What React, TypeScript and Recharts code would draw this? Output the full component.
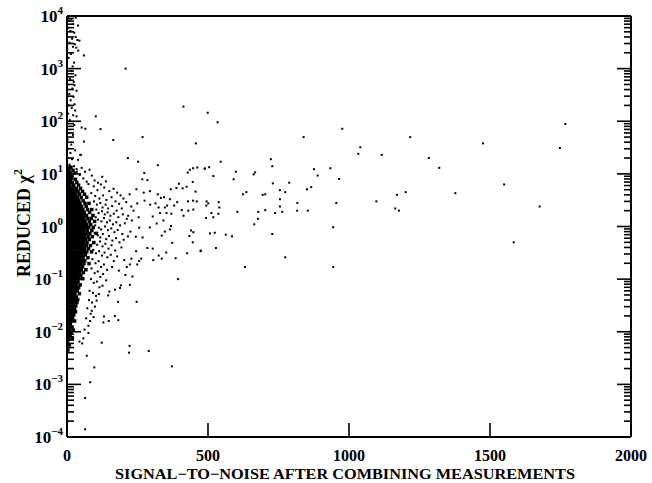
import { ScatterChart, Scatter, XAxis, YAxis } from "recharts";

// x axis: signal-to-noise, y axis: reduced chi^2 (log)
const snTicks = [0, 500, 1000, 1500, 2000];
const chiDecades = [1e-4, 1e-3, 1e-2, 1e-1, 1, 1e1, 1e2, 1e3, 1e4];
const minorSteps = [2, 3, 4, 5, 6, 7, 8, 9];

// dense core near S/N ~ 0: one row per chi^2 level, with the S/N of each dot
const coreRows: [number, number[]][] = [
  [13.4, [3, 14]],
  [11.7, [7, 21]],
  [10.3, [1, 11, 26]],
  [9.0, [5, 17]],
  [7.9, [2, 12, 30]],
  [6.9, [8, 19, 35]],
  [6.1, [0, 10, 24, 41]],
  [5.3, [4, 13, 22, 33, 48]],
  [4.65, [1, 9, 18, 28, 39, 55]],
  [4.1, [5, 14, 23, 31, 44, 62]],
  [3.6, [2, 10, 19, 27, 36, 50, 70]],
  [3.1, [6, 15, 24, 33, 42, 57]],
  [2.75, [0, 9, 18, 27, 37, 46, 64, 78]],
  [2.4, [4, 13, 22, 31, 40, 52, 68]],
  [2.1, [1, 10, 19, 28, 36, 45, 56, 73, 88]],
  [1.85, [5, 14, 23, 32, 41, 50, 61, 80]],
  [1.62, [2, 11, 20, 29, 38, 47, 57, 69, 92]],
  [1.42, [6, 15, 24, 33, 42, 51, 60, 74, 86]],
  [1.25, [0, 9, 18, 27, 36, 45, 54, 64, 79, 98]],
  [1.09, [4, 13, 22, 31, 40, 49, 58, 70, 84]],
  [0.96, [1, 10, 19, 28, 37, 46, 55, 66, 77, 93]],
  [0.84, [5, 14, 23, 32, 41, 50, 60, 72, 88]],
  [0.74, [2, 11, 20, 29, 38, 47, 57, 68, 81, 104]],
  [0.64, [6, 15, 24, 33, 42, 52, 62, 75, 90]],
  [0.565, [0, 9, 18, 27, 36, 45, 55, 66, 79]],
  [0.495, [3, 12, 21, 30, 39, 48, 59, 71, 95]],
  [0.435, [1, 10, 19, 28, 37, 47, 57, 68, 83]],
  [0.38, [5, 14, 23, 32, 41, 51, 62, 76]],
  [0.33, [2, 11, 20, 29, 38, 48, 58, 70, 87]],
  [0.29, [6, 15, 24, 33, 43, 53, 65]],
  [0.256, [0, 9, 18, 27, 36, 46, 57, 74]],
  [0.224, [4, 13, 22, 31, 41, 52, 63]],
  [0.197, [1, 10, 19, 28, 38, 48, 60, 78]],
  [0.172, [5, 14, 23, 33, 43, 55]],
  [0.151, [2, 11, 20, 30, 40, 51, 67]],
  [0.133, [6, 15, 24, 34, 45, 58]],
  [0.116, [0, 9, 18, 27, 37, 49]],
  [0.102, [3, 12, 21, 31, 42, 56]],
  [0.089, [1, 10, 19, 29, 39]],
  [0.078, [5, 14, 24, 34, 47]],
  [0.069, [2, 11, 20, 30, 41]],
  [0.06, [6, 15, 25, 36]],
  [0.053, [0, 9, 18, 28, 44]],
  [0.046, [4, 13, 22, 33]],
  [0.041, [1, 10, 19, 29, 38]],
  [0.036, [5, 14, 24, 35]],
  [0.031, [2, 11, 21, 31]],
  [0.027, [6, 16, 27]],
  [0.024, [0, 9, 19, 30]],
  [0.021, [4, 13, 24]],
  [0.018, [1, 10, 20]],
  [0.016, [5, 15, 27]],
  [0.014, [2, 12]],
  [0.0123, [7, 18]],
  [0.0108, [0, 10, 22]],
  [0.0095, [4, 14]],
  [0.0084, [1, 11]],
  [0.0073, [6, 19]],
  [0.0064, [2]],
  [0.0056, [8]],
  [0.0045, [3]],
];

// the spike of large chi^2 at low S/N
const spike: [number, number][] = [
  [3, 9500], [8, 8200], [15, 8800], [31, 9300], [22, 7000], [39, 6600], [5, 6000],
  [12, 5200], [26, 4800], [31, 4000], [18, 3700], [37, 3500], [44, 3400], [9, 3100],
  [28, 2900], [21, 2600], [33, 2500], [40, 2200], [60, 1780], [14, 1900], [6, 1600],
  [25, 1300], [20, 1100], [16, 900], [30, 750], [11, 640], [24, 560], [27, 480],
  [19, 420], [34, 380], [8, 330], [23, 290], [13, 250], [27, 210], [17, 180],
  [29, 160], [4, 140], [22, 130], [34, 124], [10, 105], [52, 76], [65, 72], [26, 85],
  [7, 60], [21, 55], [60, 41], [15, 36], [47, 23], [29, 28], [3, 30], [18, 19],
  [39, 18.5], [49, 23], [9, 15], [25, 14], [35, 11], [12, 25], [2, 45], [6, 200],
  [1, 2300], [2, 700], [34, 12.3],
];

// fan of points spreading out from the core
const fan: [number, number][] = [
  [252, 17], [322, 14.6], [274, 10.4], [267, 7.9], [285, 7.6], [428, 10.6], [436, 12],
  [447, 12.8], [462, 13.2], [488, 12.6], [397, 6.5], [424, 5.7], [446, 7.0], [368, 5.1],
  [388, 5.4], [410, 5.3], [456, 4.6], [246, 5.1], [272, 4.4], [294, 4.7], [322, 4.1],
  [222, 4.1], [333, 3.5], [344, 3.6], [365, 3.3], [391, 2.9], [429, 3.0], [447, 3.1],
  [460, 3.0], [275, 3.1], [249, 2.75], [314, 2.75], [295, 2.6], [325, 2.3], [347, 2.3],
  [355, 2.5], [380, 2.5], [407, 2.05], [430, 2.0], [448, 2.1], [330, 1.8], [353, 1.8],
  [370, 1.75], [413, 1.6], [254, 1.5], [304, 1.55], [217, 1.6], [342, 1.3], [318, 1.14],
  [256, 0.95], [294, 0.96], [369, 1.02], [365, 0.88], [347, 0.8], [440, 0.84], [448, 0.78],
  [244, 0.64], [268, 0.62], [216, 0.65], [336, 0.67], [434, 0.66], [373, 0.49],
  [446, 0.5], [474, 0.35], [426, 0.31], [385, 0.25], [352, 0.32], [336, 0.245],
  [325, 0.28], [306, 0.23], [285, 0.39], [304, 0.38], [256, 0.22], [249, 0.19],
  [263, 0.245], [228, 0.245], [223, 0.19], [245, 0.34], [394, 0.1], [212, 0.17],
  [203, 0.23], [184, 0.145], [232, 0.112], [207, 0.12], [223, 0.078], [247, 0.037],
  [191, 0.076], [188, 0.068], [170, 0.063], [150, 0.058], [146, 0.049], [181, 0.037],
  [105, 0.039], [170, 0.02], [131, 0.0195], [129, 0.015], [148, 0.016], [182, 0.0166],
  [88, 0.025], [82, 0.016], [76, 0.013],
  [95, 5.8], [108, 4.9], [120, 6.3], [132, 5.5], [150, 4.7], [165, 5.2], [178, 4.4],
  [190, 3.9], [86, 4.3], [100, 3.8], [115, 3.4], [128, 3.9], [140, 3.2], [158, 3.6],
  [172, 3.0], [185, 2.7], [200, 3.4], [210, 2.9], [96, 3.0], [106, 2.6], [118, 2.8],
  [126, 2.3], [137, 2.6], [146, 2.2], [160, 2.45], [176, 2.0], [194, 2.2], [228, 2.4],
  [236, 2.0], [104, 2.1], [112, 1.8], [124, 1.95], [134, 1.7], [144, 1.85], [154, 1.6],
  [166, 1.75], [182, 1.5], [198, 1.7], [212, 1.4], [230, 1.3], [102, 1.5], [110, 1.35],
  [122, 1.25], [131, 1.45], [142, 1.2], [152, 1.3], [163, 1.1], [175, 1.2], [188, 1.05],
  [205, 1.15], [100, 1.05], [113, 0.95], [121, 0.88], [135, 1.0], [145, 0.85],
  [157, 0.92], [168, 0.78], [180, 0.86], [196, 0.72], [225, 0.8], [98, 0.75], [109, 0.68],
  [118, 0.62], [127, 0.72], [139, 0.58], [149, 0.66], [161, 0.54], [174, 0.6], [186, 0.5],
  [201, 0.56], [97, 0.5], [107, 0.45], [117, 0.52], [126, 0.42], [136, 0.47], [147, 0.38],
  [158, 0.44], [171, 0.35], [193, 0.4], [93, 0.36], [103, 0.31], [114, 0.34], [124, 0.28],
  [133, 0.32], [143, 0.26], [155, 0.29], [166, 0.22], [178, 0.27], [90, 0.24], [101, 0.2],
  [112, 0.22], [121, 0.17], [131, 0.19], [142, 0.15], [160, 0.17], [87, 0.16], [98, 0.13],
  [109, 0.14], [118, 0.11], [128, 0.125], [139, 0.095], [85, 0.1], [95, 0.085],
  [106, 0.09], [115, 0.07], [126, 0.075], [80, 0.06], [92, 0.055], [103, 0.048],
  [113, 0.052], [78, 0.04], [89, 0.036], [99, 0.03], [72, 0.028], [84, 0.022],
  [94, 0.019], [68, 0.018], [76, 0.0095], [62, 0.011], [58, 0.0075], [44, 0.0065],
  [45, 9.5], [58, 8.2], [70, 7.1], [88, 9.3], [76, 6.4], [98, 7.5], [64, 11], [110, 6.8],
  [125, 8.8], [52, 13], [80, 12], [138, 7.2],
];

// isolated points
const outliers: [number, number][] = [
  [208, 1000], [413, 190], [102, 124], [119, 71], [164, 44], [268, 50], [457, 38],
  [216, 20], [499, 145], [534, 96], [976, 72], [839, 50], [1217, 50], [1040, 32],
  [1033, 24], [1116, 23], [1283, 20], [1320, 13], [545, 17], [723, 19], [728, 14],
  [489, 12.6], [504, 13.4], [519, 9.1], [599, 11], [667, 10.7], [662, 9.8], [591, 7.9],
  [876, 12.3], [934, 12.8], [889, 9.3], [965, 8], [788, 6.8], [730, 6.6], [866, 5.6],
  [851, 5.1], [755, 4.9], [774, 4.5], [636, 4.5], [624, 4.1], [703, 4.1], [694, 4.0],
  [755, 3.3], [817, 2.8], [955, 2.8], [755, 2.4], [538, 2.9], [495, 3.0], [501, 2.75],
  [494, 2.5], [540, 2.3], [604, 1.9], [703, 2.05], [678, 1.9], [738, 1.8], [763, 1.9],
  [816, 2.0], [854, 2.0], [512, 1.8], [537, 1.75], [519, 1.5], [493, 1.45], [677, 1.4],
  [664, 1.1], [944, 0.97], [507, 0.74], [524, 0.76], [563, 0.7], [585, 0.65], [728, 0.72],
  [528, 0.39], [474, 0.34], [774, 0.26], [631, 0.17], [944, 0.17], [1097, 3.0],
  [1170, 4.0], [1201, 4.5], [1164, 2.2], [1177, 2.0], [1767, 89], [1475, 38], [1748, 31],
  [1550, 6.3], [1377, 4.3], [1676, 2.4], [1584, 0.5],
  [54, 0.006], [123, 0.0062], [222, 0.0054], [220, 0.004], [290, 0.0043], [70, 0.0035],
  [97, 0.0021], [372, 0.0022], [82, 0.0011], [64, 0.00055], [64, 0.00014],
];

const toPts = (list: [number, number][]) => list.map(([sn, chi]) => ({ sn, chi }));
const corePts = coreRows.flatMap(([chi, sns]) => sns.map((sn) => ({ sn, chi })));
const loosePts = [...toPts(spike), ...toPts(fan), ...toPts(outliers)];

const chiTicks = [
  ...chiDecades,
  ...chiDecades.slice(0, -1).flatMap((d) => minorSteps.map((m) => d * m)),
];

const FONT = "'Liberation Serif', 'DejaVu Serif', serif";
const isMajor = (v: number) => Math.abs(Math.log10(v) - Math.round(Math.log10(v))) < 1e-6;
const expText = (v: number) => {
  const e = Math.round(Math.log10(v));
  return e < 0 ? "\u2212" + -e : String(e);
};

const LeftTick = (p: any) => {
  const v = p.payload.value;
  const major = isMajor(v);
  return (
    <g>
      <line x1={p.x} x2={p.x + (major ? 14 : 7)} y1={p.y} y2={p.y} stroke="#000" strokeWidth={1.6} />
      {major && (
        <text x={p.x - 4} y={p.y + 6} textAnchor="end" fontFamily={FONT} fontWeight="bold" fontSize={17} fill="#000">
          10
          <tspan dy={-8} fontSize={11}>{expText(v)}</tspan>
        </text>
      )}
    </g>
  );
};

const RightTick = (p: any) => {
  const major = isMajor(p.payload.value);
  return <line x1={p.x} x2={p.x - (major ? 14 : 7)} y1={p.y} y2={p.y} stroke="#000" strokeWidth={1.6} />;
};

const BottomTick = (p: any) => (
  <g>
    <line x1={p.x} x2={p.x} y1={p.y} y2={p.y - 14} stroke="#000" strokeWidth={1.6} />
    <text x={p.x} y={p.y + 24} textAnchor="middle" fontFamily={FONT} fontWeight="bold" fontSize={16} fill="#000">
      {p.payload.value}
    </text>
  </g>
);

const TopTick = (p: any) => (
  <line x1={p.x} x2={p.x} y1={p.y} y2={p.y + 14} stroke="#000" strokeWidth={1.6} />
);

const XTitle = () => (
  <text x={345} y={479} textAnchor="middle" fontFamily={FONT} fontWeight="bold" fontSize={15} fill="#000"
    textLength={460} lengthAdjust="spacingAndGlyphs">
    SIGNAL{"\u2212"}TO{"\u2212"}NOISE AFTER COMBINING MEASUREMENTS
  </text>
);

const YTitle = () => (
  <text x={0} y={0} transform="translate(30,223) rotate(-90)" textAnchor="middle" fontFamily={FONT}
    fontWeight="bold" fontSize={18} fill="#000">
    REDUCED {"\u03c7"}
    <tspan dy={-8} fontSize={12}>2</tspan>
  </text>
);

const dot = (s: number) => (p: any) => (
  <rect x={p.cx - s / 2} y={p.cy - s / 2} width={s} height={s} fill="#000" />
);

export default function App() {
  return (
    <div style={{ position: "absolute", left: 0, top: 0, background: "#fff" }}>
      <ScatterChart width={652} height={483} margin={{ top: 0, right: 0, bottom: 0, left: 0 }}>
        <XAxis xAxisId="b" dataKey="sn" type="number" domain={[0, 2000]} ticks={snTicks} interval={0}
          allowDataOverflow orientation="bottom" height={46} tickSize={0} tickMargin={0}
          tick={BottomTick} axisLine={{ stroke: "#000", strokeWidth: 2 }} tickLine={false}
          label={<XTitle />} />
        <XAxis xAxisId="t" type="number" domain={[0, 2000]} ticks={snTicks} interval={0}
          allowDataOverflow orientation="top" height={16} tickSize={0} tickMargin={0}
          tick={TopTick} axisLine={{ stroke: "#000", strokeWidth: 2 }} tickLine={false} />
        <YAxis yAxisId="l" dataKey="chi" type="number" scale="log" domain={[1e-4, 1e4]} ticks={chiTicks}
          interval={0} allowDataOverflow orientation="left" width={67} tickSize={0} tickMargin={0}
          tick={LeftTick} axisLine={{ stroke: "#000", strokeWidth: 2 }} tickLine={false}
          label={<YTitle />} />
        <YAxis yAxisId="r" type="number" scale="log" domain={[1e-4, 1e4]} ticks={chiTicks}
          interval={0} allowDataOverflow orientation="right" width={21} tickSize={0} tickMargin={0}
          tick={RightTick} axisLine={{ stroke: "#000", strokeWidth: 2 }} tickLine={false} />
        <Scatter data={corePts} xAxisId="b" yAxisId="l" shape={dot(3.5)} isAnimationActive={false} />
        <Scatter data={loosePts} xAxisId="b" yAxisId="l" shape={dot(2)} isAnimationActive={false} />
      </ScatterChart>
    </div>
  );
}
